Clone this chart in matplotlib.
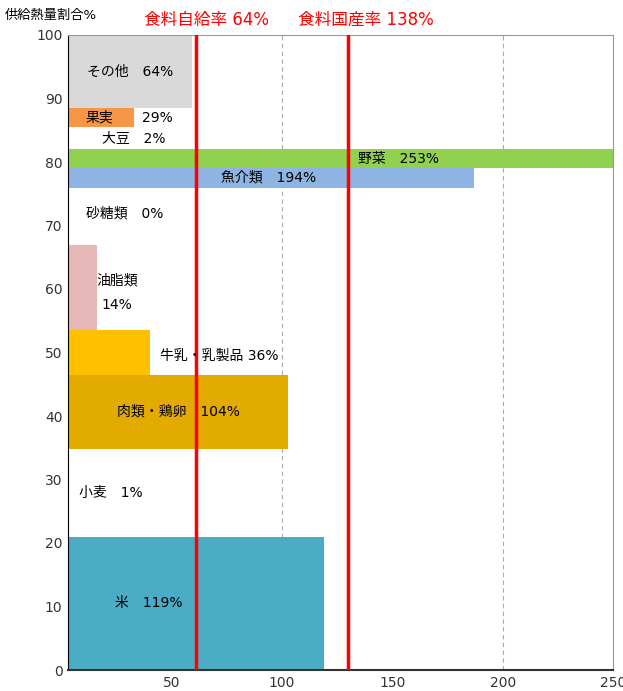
import matplotlib
matplotlib.use('Agg')
import matplotlib.pyplot as plt

plt.rcParams['font.family'] = ['DejaVu Sans', 'Noto Sans CJK JP']

# 品目（下から順に積み上げ）
categories = ['米', '小麦', '肉類・鶏卵', '牛乳・乳製品', '油脂類', '砂糖類',
              '魚介類', '野菜', '大豆', '果実', 'その他']
# 供給熱量割合（棒の高さ, %）
shares = [20.9, 13.9, 11.6, 7.2, 13.3, 9.0, 3.2, 2.9, 3.5, 3.0, 11.5]
# 棒の長さ
widths = [119, 1, 102.6, 40, 16, 0, 187, 253, 2, 33, 59]
# ラベルの自給率
rates = ['119%', '1%', '104%', '36%', '14%', '0%', '194%', '253%', '2%', '29%', '64%']
colors = ['#4BACC6', '#4BACC6', '#E3AA00', '#FFC000', '#E6B9B8', '#FFFFFF',
          '#8DB4E2', '#92D050', '#FFFFFF', '#F79646', '#D9D9D9']

# 赤線（食料自給率・食料国産率）
line_x = [61, 130]
line_labels = ['食料自給率 64%', '食料国産率 138%']

fig = plt.figure(figsize=(6.23, 6.91), dpi=100)
ax = fig.add_axes([68/623, 21/691, 545/623, 635/691])

bottom = 0
bottoms = []
for w, h, c in zip(widths, shares, colors):
    ax.barh(bottom, w, height=h, left=0, align='edge', color=c, zorder=2)
    bottoms.append(bottom)
    bottom += h

for x in line_x:
    ax.axvline(x, color='#FF0000', lw=2.5, zorder=4)

ax.set_xlim(3, 250)
ax.set_ylim(0, 100)
ax.set_xticks([50, 100, 150, 200, 250])
ax.set_yticks(range(0, 101, 10))
ax.tick_params(length=0, labelsize=10, colors='#333333', pad=4)
for x in [100, 200]:
    ax.axvline(x, color='#AAAAAA', lw=0.8, ls=(0, (4, 3)), zorder=1)

ax.spines['left'].set_color('#000000')
ax.spines['bottom'].set_color('#333333')
ax.spines['bottom'].set_linewidth(1.5)
ax.spines['top'].set_color('#999999')
ax.spines['right'].set_color('#999999')

# ラベル（品目ごとの配置）
fs = 10
def mid(i):
    return bottoms[i] + shares[i] / 2

ax.text(31, 94.2, 'その他　64%', ha='center', va='center', fontsize=fs, zorder=5)
ax.text(17, mid(9), '果実', ha='center', va='center', fontsize=fs, zorder=5)
ax.text(36.5, mid(9), '29%', ha='left', va='center', fontsize=fs, zorder=5)
ax.text(18.5, mid(8), '大豆　2%', ha='left', va='center', fontsize=fs, zorder=5)
ax.text(153, mid(7), '野菜　253%', ha='center', va='center', fontsize=fs, zorder=5)
ax.text(94, mid(6), '魚介類　194%', ha='center', va='center', fontsize=fs, zorder=5)
ax.text(11, 71.9, '砂糖類　0%', ha='left', va='center', fontsize=fs, zorder=5)
ax.text(16, 61.4, '油脂類', ha='left', va='center', fontsize=fs, zorder=5)
ax.text(18, 57.5, '14%', ha='left', va='center', fontsize=fs, zorder=5)
ax.text(44.5, 49.5, '牛乳・乳製品 36%', ha='left', va='center', fontsize=fs, zorder=5)
ax.text(25, 40.7, '肉類・鶏卵　104%', ha='left', va='center', fontsize=fs, zorder=5)
ax.text(8, 27.8, '小麦　1%', ha='left', va='center', fontsize=fs, zorder=5)
ax.text(24.5, 10.5, '米　119%', ha='left', va='center', fontsize=fs, zorder=5)

fig.text(144/623, 1 - 20/691, line_labels[0], color='#FF0000', fontsize=12,
         ha='left', va='center')
fig.text(298/623, 1 - 20/691, line_labels[1], color='#FF0000', fontsize=12,
         ha='left', va='center')
fig.text(5/623, 1 - 15/691, '供給熱量割合%', fontsize=9.5, ha='left', va='center')

fig.savefig('out.png', dpi=100)
